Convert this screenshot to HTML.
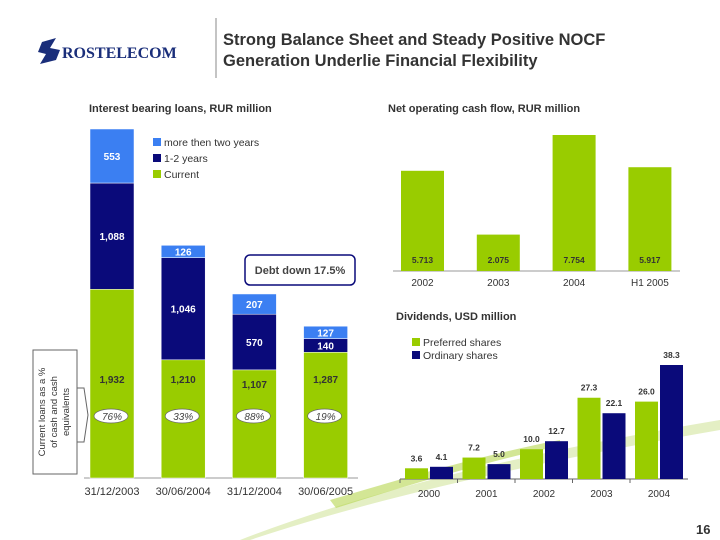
<!DOCTYPE html>
<html><head><meta charset="utf-8">
<style>
body{margin:0;background:#fff;}
svg{display:block;font-family:"Liberation Sans",Arial,sans-serif;}
</style></head>
<body>
<svg id="s" width="720" height="540" viewBox="0 0 720 540">
  <path d="M240 540 Q420 470 720 420 L720 430 Q430 480 250 540 Z" fill="#e4efc4"/>
  <path d="M330 500 Q480 455 560 440 L560 446 Q480 462 336 508 Z" fill="#b6d64e" opacity="0.6"/>
  <g>
    <path d="M42 42 L56 38 L50 48 L60 50 L56 60 L40 64 L46 54 L38 52 Z" fill="#1a2e7a"/>
    <text x="62" y="58" font-size="16" font-weight="bold" fill="#1a2e7a" font-family="Liberation Serif,serif">ROSTELECOM</text>
  </g>
  <line x1="216" y1="18" x2="216" y2="78" stroke="#888" stroke-width="1"/>
  <text x="223" y="45" font-size="16.5" font-weight="bold" fill="#333">Strong Balance Sheet and Steady Positive NOCF</text>
  <text x="223" y="66" font-size="16.5" font-weight="bold" fill="#333">Generation Underlie Financial Flexibility</text>
  <text x="89" y="112" font-size="11" font-weight="bold" fill="#333">Interest bearing loans, RUR million</text>
  <text x="388" y="112" font-size="11" font-weight="bold" fill="#333">Net operating cash flow, RUR million</text>
  <text x="396" y="320" font-size="11" font-weight="bold" fill="#333">Dividends, USD million</text>
  <text x="696" y="534" font-size="13" font-weight="bold" fill="#333">16</text>

  <g id="loans"></g>
  <g id="nocf"></g>
  <g id="divs"></g>

  <g>
    <rect x="153" y="138" width="8" height="8" fill="#3b7ff2"/><text x="164" y="146" font-size="10.5" fill="#333">more then two years</text>
    <rect x="153" y="154" width="8" height="8" fill="#0a0a7a"/><text x="164" y="162" font-size="10.5" fill="#333">1-2 years</text>
    <rect x="153" y="170" width="8" height="8" fill="#99cc00"/><text x="164" y="178" font-size="10.5" fill="#333">Current</text>
  </g>
  <g>
    <rect x="245" y="255" width="110" height="30" rx="5" fill="#fff" stroke="#0a0a7a" stroke-width="1.5"/>
    <text x="300" y="274" font-size="11" font-weight="bold" fill="#444" text-anchor="middle">Debt down 17.5%</text>
  </g>
  <g>
    <rect x="33" y="350" width="44" height="124" fill="#fff" stroke="#666"/>
    <path d="M77 388 L84 388 L88 415 L84 442 L77 442" fill="none" stroke="#666"/>
    <text transform="translate(45,412) rotate(-90)" font-size="9.5" fill="#333" text-anchor="middle">Current loans as a %</text>
    <text transform="translate(57,412) rotate(-90)" font-size="9.5" fill="#333" text-anchor="middle">of cash and cash</text>
    <text transform="translate(69,412) rotate(-90)" font-size="9.5" fill="#333" text-anchor="middle">equivalents</text>
  </g>
  <g>
    <rect x="412" y="338" width="8" height="8" fill="#99cc00"/><text x="423" y="346" font-size="10.5" fill="#333">Preferred shares</text>
    <rect x="412" y="351" width="8" height="8" fill="#0a0a7a"/><text x="423" y="359" font-size="10.5" fill="#333">Ordinary shares</text>
  </g>
</svg>
<script>
const loanDates=["31/12/2003","30/06/2004","31/12/2004","30/06/2005"];
const loanCurrent=[1932,1210,1107,1287];
const loanOneTwo=[1088,1046,570,140];
const loanOver2=[553,126,207,127];
const loanPct=["76%","33%","88%","19%"];
const nocfYears=["2002","2003","2004","H1 2005"];
const nocfValues=[5713,2075,7754,5917];
const divYears=["2000","2001","2002","2003","2004"];
const divPreferred=[3.6,7.2,10.0,27.3,26.0];
const divOrdinary=[4.1,5.0,12.7,22.1,38.3];

const NS="http://www.w3.org/2000/svg";
function mk(p,t,a,txt){const e=document.createElementNS(NS,t);for(const k in a)e.setAttribute(k,a[k]);if(txt!==undefined)e.textContent=txt;p.appendChild(e);return e;}
const fmt=v=>v.toLocaleString("en-US");

// Loans chart
const L=document.getElementById("loans");
const lBase=478,lScale=349/3573;
const lx=i=>90+i*71.2, lw=44;
const ly=v=>lBase-v*lScale;
mk(L,"line",{x1:84,y1:lBase,x2:358,y2:lBase,stroke:"#999"});
loanDates.forEach((d,i)=>{
  const x=lx(i);
  const segs=[[loanCurrent[i],"#99cc00","#333"],[loanOneTwo[i],"#0a0a7a","#fff"],[loanOver2[i],"#3b7ff2","#fff"]];
  let acc=0;
  segs.forEach((s,j)=>{
    const y0=ly(acc),y1=ly(acc+s[0]);
    const r=mk(L,"rect",{x:x,y:y1,width:lw,height:y0-y1,fill:s[1],stroke:"#fff","stroke-width":0.5});
    
    
    const ty=j===0?Math.max(y1+18,383):(y0+y1)/2+4;
    const t=mk(L,"text",{x:x+lw/2,y:ty,"font-size":10,"font-weight":"bold",fill:s[2],"text-anchor":"middle"},fmt(s[0]));
    
    
    acc+=s[0];
  });
  const o=mk(L,"ellipse",{cx:x+lw/2-1,cy:416,rx:17,ry:7,fill:"#fff",stroke:"#666","stroke-width":0.7});
  
  
  const pt=mk(L,"text",{x:x+lw/2,y:420,"font-size":10,"font-style":"italic",fill:"#444","text-anchor":"middle"},loanPct[i]);
  
  
  const xl=mk(L,"text",{x:x+lw/2,y:495,"font-size":11,fill:"#333","text-anchor":"middle"},d);
  
  
});

// NOCF chart
const N=document.getElementById("nocf");
const nBase=271,nScale=136/7754;
const nx=i=>401+i*75.8, nw=43;
mk(N,"line",{x1:393,y1:nBase,x2:680,y2:nBase,stroke:"#999"});
nocfYears.forEach((y,i)=>{
  const h=nocfValues[i]*nScale;
  const r=mk(N,"rect",{x:nx(i),y:nBase-h,width:nw,height:h,fill:"#99cc00"});
  
  
  const t=mk(N,"text",{x:nx(i)+nw/2,y:nBase-8,"font-size":8.5,"font-weight":"bold",fill:"#333","text-anchor":"middle"},fmt(nocfValues[i]).replace(",","."));
  
  
  const xl=mk(N,"text",{x:nx(i)+nw/2,y:286,"font-size":10,fill:"#333","text-anchor":"middle"},y);
  
  
});

// Dividends chart
const D=document.getElementById("divs");
const dBase=479,dScale=114/38.3;
const dx=i=>405+i*57.5, dw=23;
mk(D,"line",{x1:400,y1:dBase,x2:688,y2:dBase,stroke:"#666"});
divYears.forEach((y,i)=>{
  [[divPreferred[i],"#99cc00",0],[divOrdinary[i],"#0a0a7a",25]].forEach(s=>{
    const h=s[0]*dScale, x=dx(i)+s[2];
    const r=mk(D,"rect",{x:x,y:dBase-h,width:dw,height:h,fill:s[1]});
    
    
    const t=mk(D,"text",{x:x+dw/2,y:dBase-h-7,"font-size":8.5,"font-weight":"bold",fill:"#333","text-anchor":"middle"},s[0].toFixed(1));
    
    
  });
  const tk=mk(D,"line",{x1:dx(i)-5,y1:dBase,x2:dx(i)-5,y2:dBase+4,stroke:"#666"});
  
  
  const xl=mk(D,"text",{x:dx(i)+24,y:497,"font-size":10,fill:"#333","text-anchor":"middle"},y);
  
  
});
</script>
</body></html>
